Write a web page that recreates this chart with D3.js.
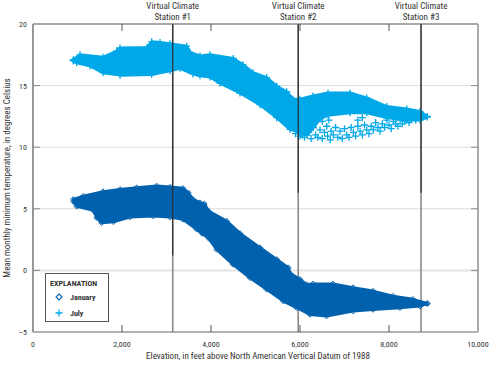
<!DOCTYPE html>
<html><head><meta charset="utf-8">
<script src="https://cdn.jsdelivr.net/npm/d3@7"></script>
<style>
body{margin:0;background:#fff;}
svg{font-family:"Liberation Sans Narrow","Arial Narrow","Roboto Condensed","DejaVu Sans Condensed",sans-serif;}
</style></head>
<body><svg id="c" width="489" height="365"></svg>
<script>
// ---- data (elevation ft, temperature °C) ----
const julyUpper = [[906,17.1],[1056,17.5],[1573,17.3],[1881,17.8],[1955,18.05],[2562,18.1],[2667,18.55],[2854,18.5],[3079,18.4],[3454,18.2],[3528,17.7],[3753,17.4],[3978,17.5],[4501,17.2],[4719,16.7],[4944,16.05],[5251,15.65],[5476,14.95],[5701,14.5],[5843,13.9],[5999,13.9],[6292,14.15],[6629,14.4],[7124,14.4],[7499,14.0],[7948,13.3],[8398,13.1],[8697,12.9],[8860,12.5]];
const julyLower = [[906,17.0],[982,16.85],[1281,16.6],[1573,16.05],[1955,15.85],[2667,15.9],[3079,16.2],[3303,16.4],[3596,15.95],[3753,15.8],[3978,15.7],[4202,15.2],[4652,14.4],[5101,13.45],[5476,12.4],[5775,11.45],[5999,11.2],[6150,11.0],[6300,11.6],[6450,12.3],[6629,12.6],[7124,12.8],[7499,12.8],[7948,12.4],[8398,12.2],[8697,12.2],[8860,12.45]];
const julyScatter = [[6050,11.0],[6100,10.8],[6150,11.5],[6200,11.2],[6250,10.7],[6300,11.6],[6350,11.0],[6400,10.8],[6450,11.4],[6500,10.7],[6550,11.2],[6600,11.7],[6620,10.9],[6680,10.6],[6700,11.3],
  [6750,11.0],[6800,11.6],[6850,10.8],[6900,11.3],[6950,10.7],[7000,11.5],[7050,11.0],[7100,10.8],[7150,11.6],[7200,11.2],[7250,10.9],[7300,11.7],[7350,11.3],[7400,11.0],[7450,11.8],[7500,11.4],[7550,11.1],[7600,11.7],
  [7650,11.4],[7700,12.0],[7750,11.6],[7800,11.3],[7850,11.9],[7900,11.6],[7950,12.2],[8000,11.8],[8050,11.5],[8100,12.1],[8150,11.9],[8200,11.7],[8250,12.2],[8300,11.9],[8350,12.1],[8450,12.0],[8500,12.3],[8600,12.2],
  [6650,12.2],[7300,12.2],[7400,12.4],[6500,12.1],[6400,12.3],[6000,10.9],[5900,11.1]];
const janUpper = [[906,5.76],[1131,6.03],[1573,6.39],[1955,6.57],[2330,6.71],[2779,6.85],[3079,6.76],[3370,6.66],[3490,6.3],[3596,5.76],[3753,5.5],[3850,5.4],[3950,4.8],[4352,4.0],[4652,3.0],[5101,1.84],[5476,0.89],[5737,0.22],[5775,-0.24],[5999,-0.73],[6142,-1.14],[6292,-1.1],[6741,-1.1],[7191,-1.4],[7640,-1.68],[8090,-2.09],[8539,-2.35],[8860,-2.68]];
const janLower = [[906,5.6],[982,5.2],[1356,4.87],[1431,4.28],[1543,3.87],[1805,3.95],[2179,4.33],[2704,4.41],[3079,4.33],[3370,4.14],[3679,3.33],[3800,3.0],[3950,2.6],[4127,1.7],[4494,0.49],[4876,-0.6],[5251,-1.54],[5626,-2.49],[5925,-3.03],[6224,-3.57],[6599,-3.7],[7191,-3.3],[7640,-3.17],[8247,-3.03],[8697,-2.9],[8860,-2.7]];
const stations = [{name:"Station #1",elev:3140,solidTo:1.2},{name:"Station #2",elev:5960,solidTo:6.3},{name:"Station #3",elev:8720,solidTo:6.3}];
const xTicks = [0,2000,4000,6000,8000,10000];
const yTicks = [-5,0,5,10,15,20];

const julyColor = "#00a8e8", janColor = "#0061ae";
const svg = d3.select("#c");
const x = d3.scaleLinear().domain([0,10000]).range([33,478]);
const y = d3.scaleLinear().domain([-5,20]).range([332,24]);

// gridlines
svg.append("g").selectAll("line").data(yTicks.filter(d=>d>-5&&d<20)).join("line")
  .attr("x1",33).attr("x2",478).attr("y1",d=>y(d)).attr("y2",d=>y(d))
  .attr("stroke",d=>d===0?"#e4e4e4":"#dcdcdc").attr("stroke-width",d=>d===0?2:1);

// station lines (gray full, dark upper part)
svg.append("g").selectAll("line").data(stations).join("line")
  .attr("x1",d=>x(d.elev)).attr("x2",d=>x(d.elev)).attr("y1",24).attr("y2",332)
  .attr("stroke","#8a8a8a").attr("stroke-width",1.6);

function band(upper, lower){
  const lowerMap = lower.slice().reverse();
  return d3.line().x(d=>x(d[0])).y(d=>y(d[1]))(upper.concat(lowerMap)) + "Z";
}
function plusPath(s){return `M${-s},0H${s}M0,${-s}V${s}`;}
function diamondPath(s){return `M0,${-s}L${s},0L0,${s}L${-s},0Z`;}

// July band
svg.append("path").attr("d",band(julyUpper,julyLower)).attr("fill",julyColor).attr("stroke",julyColor).attr("stroke-width",3).attr("stroke-linejoin","round");
svg.append("g").selectAll("path").data(julyUpper.concat(julyLower,julyScatter)).join("path")
  .attr("transform",d=>`translate(${x(d[0])},${y(d[1])})`)
  .attr("d",plusPath(3.5)).attr("stroke",julyColor).attr("stroke-width",1.3).attr("fill","none");

// January band
svg.append("path").attr("d",band(janUpper,janLower)).attr("fill",janColor).attr("stroke",janColor).attr("stroke-width",3).attr("stroke-linejoin","round");
svg.append("g").selectAll("path").data(janUpper.concat(janLower)).join("path")
  .attr("transform",d=>`translate(${x(d[0])},${y(d[1])})`)
  .attr("d",diamondPath(2.8)).attr("stroke",janColor).attr("stroke-width",1).attr("fill","none");

// dark upper parts of station lines
svg.append("g").selectAll("line").data(stations).join("line")
  .attr("x1",d=>x(d.elev)).attr("x2",d=>x(d.elev)).attr("y1",24).attr("y2",d=>y(d.solidTo))
  .attr("stroke","#2b2b2b").attr("stroke-width",1.2);

// frame
svg.append("line").attr("x1",33).attr("x2",478).attr("y1",24).attr("y2",24).attr("stroke","#555").attr("stroke-width",1.2);
svg.append("line").attr("x1",33).attr("x2",478).attr("y1",332).attr("y2",332).attr("stroke","#666").attr("stroke-width",1.2);
svg.append("line").attr("x1",33).attr("x2",33).attr("y1",24).attr("y2",332).attr("stroke","#8c8c8c").attr("stroke-width",1.8);
svg.append("line").attr("x1",478).attr("x2",478).attr("y1",24).attr("y2",332).attr("stroke","#aaa").attr("stroke-width",2);

// ticks inward
const inner = xTicks.filter(d=>d>0&&d<10000);
svg.append("g").selectAll("line").data(inner).join("line")
  .attr("x1",d=>x(d)).attr("x2",d=>x(d)).attr("y1",332).attr("y2",325).attr("stroke","#555");
svg.append("g").selectAll("line").data(inner).join("line")
  .attr("x1",d=>x(d)).attr("x2",d=>x(d)).attr("y1",24).attr("y2",31).attr("stroke","#555");
const yin = yTicks.filter(d=>d>-5&&d<20);
svg.append("g").selectAll("line").data(yin).join("line")
  .attr("x1",33).attr("x2",40).attr("y1",d=>y(d)).attr("y2",d=>y(d)).attr("stroke","#888");
svg.append("g").selectAll("line").data(yin).join("line")
  .attr("x1",478).attr("x2",471).attr("y1",d=>y(d)).attr("y2",d=>y(d)).attr("stroke","#888");

// tick labels
const fmt = d3.format(",");
svg.append("g").selectAll("text").data(xTicks).join("text")
  .attr("x",d=>x(d)).attr("y",347).attr("text-anchor","middle").attr("font-size",8).attr("fill","#333")
  .text(d=>fmt(d));
svg.append("g").selectAll("text").data(yTicks).join("text")
  .attr("x",27).attr("y",d=>y(d)+3).attr("text-anchor","end").attr("font-size",8).attr("fill","#333")
  .text(d=>d<0?"\u2013"+Math.abs(d):d);

// station labels
const sl = svg.append("g").selectAll("text").data(stations).join("text")
  .attr("x",d=>x(d.elev)).attr("text-anchor","middle").attr("font-size",9).attr("fill","#333");
sl.append("tspan").attr("x",d=>x(d.elev)).attr("y",9).text("Virtual Climate");
sl.append("tspan").attr("x",d=>x(d.elev)).attr("y",20).text(d=>d.name);

// axis titles
svg.append("text").attr("x",258).attr("y",359).attr("text-anchor","middle").attr("font-size",9).attr("fill","#333")
  .text("Elevation, in feet above North American Vertical Datum of 1988");
svg.append("text").attr("transform","translate(10,178) rotate(-90)").attr("text-anchor","middle").attr("font-size",9).attr("fill","#333")
  .text("Mean monthly minimum temperature, in degrees Celsius");

// legend
const lg = svg.append("g");
lg.append("rect").attr("x",45.5).attr("y",273.5).attr("width",63).attr("height",48).attr("fill","#fff").attr("stroke","#555");
lg.append("text").attr("x",50).attr("y",286).attr("font-size",8).attr("font-weight","bold").attr("fill","#333").text("EXPLANATION");
lg.append("path").attr("transform","translate(59,297)").attr("d",diamondPath(3)).attr("stroke",janColor).attr("fill","none").attr("stroke-width",1.1);
lg.append("text").attr("x",70).attr("y",300).attr("font-size",8).attr("font-weight","bold").attr("fill","#333").text("January");
lg.append("path").attr("transform","translate(59,313)").attr("d",plusPath(3.5)).attr("stroke",julyColor).attr("fill","none").attr("stroke-width",1.3);
lg.append("text").attr("x",70).attr("y",316).attr("font-size",8).attr("font-weight","bold").attr("fill","#333").text("July");
</script></body></html>
